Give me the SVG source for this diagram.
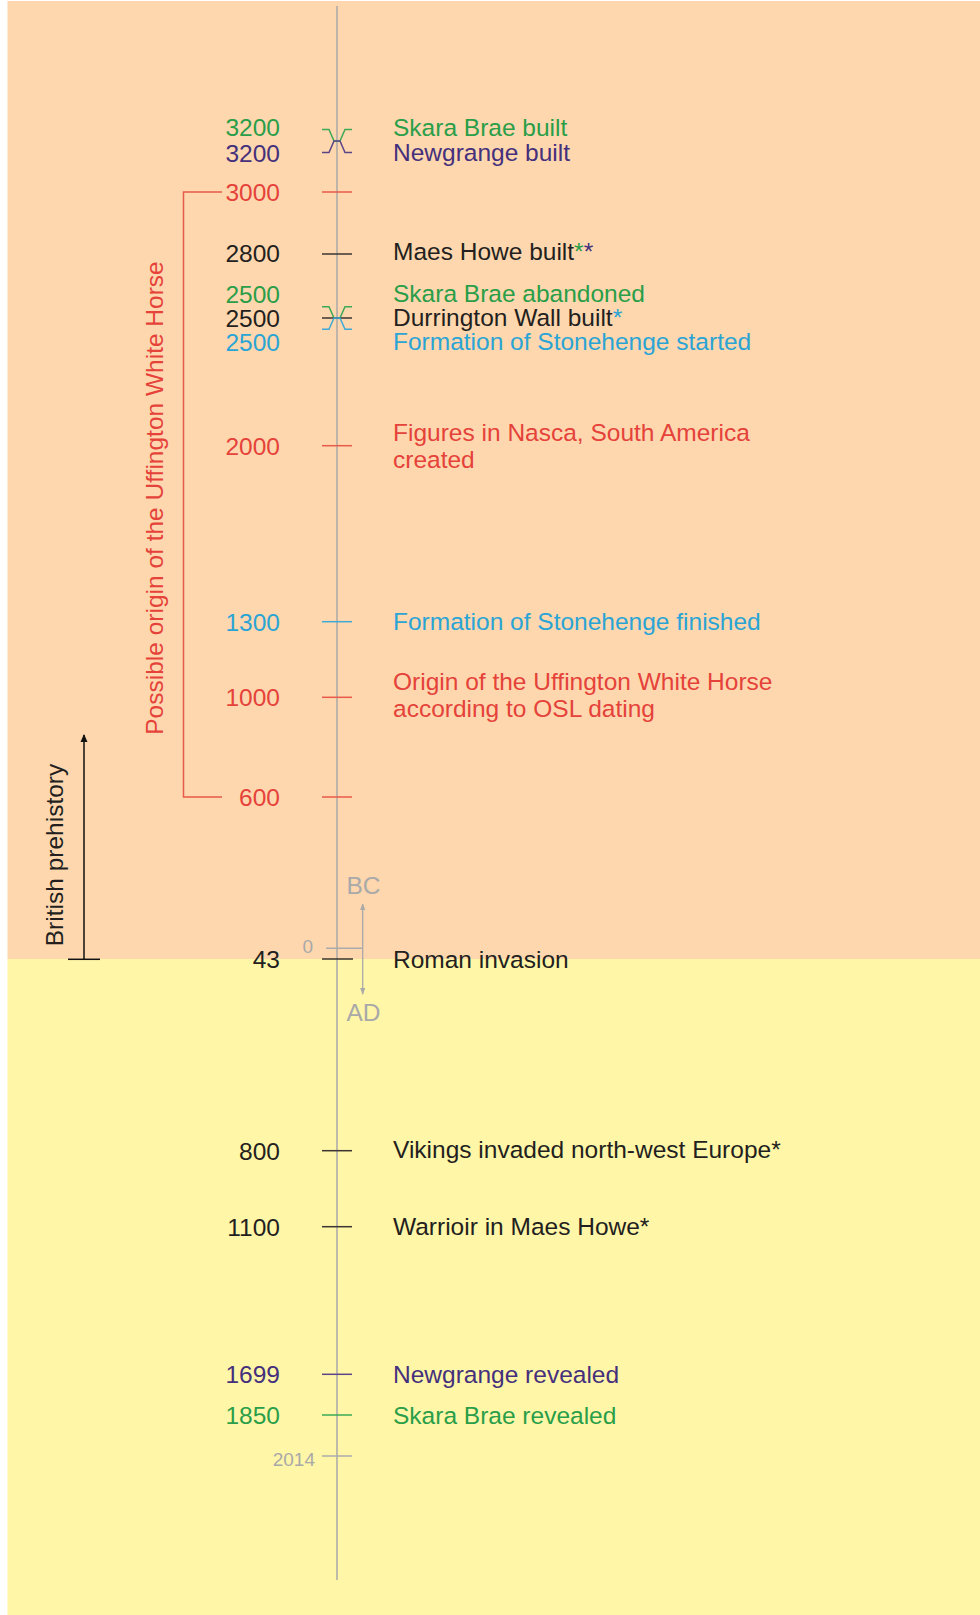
<svg xmlns="http://www.w3.org/2000/svg" width="980" height="1615" viewBox="0 0 980 1615">
<defs>
<style>
text{font-family:"Liberation Sans",Arial,sans-serif;font-size:24.5px}
.yr{text-anchor:end}
.g{fill:#2A9E48}.p{fill:#45307C}.r{fill:#E5423A}.b{fill:#2AA4D5}.k{fill:#231F20}.gr{fill:#A9A9A9}
.t{fill:none;stroke-width:1.5}
.tg{stroke:#3DA856}.tp{stroke:#5A4589}.tr{stroke:#E85A4A}.tb{stroke:#3FAAD5}.tk{stroke:#3a3530}.tgr{stroke:#ABABAB}
.sm{font-size:19px}
</style>
<marker id="ah" viewBox="0 0 8 10" refX="7" refY="5" markerWidth="8" markerHeight="10" markerUnits="userSpaceOnUse" orient="auto-start-reverse">
<path d="M0,1.5 L8,5 L0,8.5 z" fill="#111"/>
</marker>
<marker id="ahg" viewBox="0 0 8 8" refX="7" refY="4" markerWidth="7" markerHeight="7" markerUnits="userSpaceOnUse" orient="auto-start-reverse">
<path d="M0,1 L8,4 L0,7 z" fill="#A9A9A9"/>
</marker>
</defs>

<g id="background">
<rect x="7.5" y="1" width="972.5" height="958" fill="#FED7AE"/>
<rect x="7.5" y="959" width="972.5" height="656" fill="#FFF6A8"/>
</g>

<g id="connectors">
<line x1="337" y1="6" x2="337" y2="1580" stroke="#A9A9A9" stroke-width="1.5"/>
<path class="t tg" d="M322,129.5 H329 L334,141 H340 L345,129.5 H352"/>
<path class="t tp" d="M322,152.5 H329 L334,141 H340 L345,152.5 H352"/>
<line class="t tr" x1="322" y1="192" x2="352" y2="192"/>
<line class="t tk" x1="322" y1="254" x2="352" y2="254"/>
<path class="t tg" d="M322,306.7 H329 L334,318 H340 L345,306.7 H352"/>
<line class="t tk" x1="322" y1="318" x2="352" y2="318"/>
<path class="t tb" d="M322,329.3 H329 L334,318 H340 L345,329.3 H352"/>
<line class="t tr" x1="322" y1="445.7" x2="352" y2="445.7"/>
<line class="t tb" x1="322" y1="621.7" x2="352" y2="621.7"/>
<line class="t tr" x1="322" y1="697.3" x2="352" y2="697.3"/>
<line class="t tr" x1="322" y1="797" x2="352" y2="797"/>
<line class="t tgr" x1="326" y1="948.3" x2="363" y2="948.3"/>
<line class="t tk" x1="322" y1="959" x2="353" y2="959"/>
<line class="t tk" x1="322" y1="1150.7" x2="352" y2="1150.7"/>
<line class="t tk" x1="322" y1="1226.7" x2="352" y2="1226.7"/>
<line class="t tp" x1="322" y1="1374.3" x2="352" y2="1374.3"/>
<line class="t tg" x1="322" y1="1415" x2="352" y2="1415"/>
<line class="t tgr" x1="322" y1="1456" x2="352" y2="1456"/>
<line x1="362.7" y1="904" x2="362.7" y2="994" stroke="#A9A9A9" stroke-width="1.3" marker-start="url(#ahg)" marker-end="url(#ahg)"/>
<path class="t tr" d="M222,192 H183.5 V797 H222"/>
<line x1="68" y1="959.3" x2="100" y2="959.3" stroke="#111" stroke-width="1.5"/>
<line x1="84" y1="959.3" x2="84" y2="735" stroke="#111" stroke-width="1.5" marker-end="url(#ah)"/>
</g>

<g id="n3200a"><text class="yr g" x="280" y="136">3200</text><text class="g" x="393" y="135.5">Skara Brae built</text></g>
<g id="n3200b"><text class="yr p" x="280" y="161.5">3200</text><text class="p" x="393" y="161">Newgrange built</text></g>
<g id="n3000"><text class="yr r" x="280" y="200.5">3000</text></g>
<g id="n2800"><text class="yr k" x="280" y="262">2800</text><text class="k" x="393" y="260">Maes Howe built<tspan class="g">*</tspan><tspan class="p">*</tspan></text></g>
<g id="n2500a"><text class="yr g" x="280" y="302.5">2500</text><text class="g" x="393" y="302">Skara Brae abandoned</text></g>
<g id="n2500b"><text class="yr k" x="280" y="326.5">2500</text><text class="k" x="393" y="326">Durrington Wall built<tspan class="b">*</tspan></text></g>
<g id="n2500c"><text class="yr b" x="280" y="350.5">2500</text><text class="b" x="393" y="350">Formation of Stonehenge started</text></g>
<g id="n2000"><text class="yr r" x="280" y="455">2000</text><text class="r" x="393" y="441">Figures in Nasca, South America</text><text class="r" x="393" y="468">created</text></g>
<g id="n1300"><text class="yr b" x="280" y="630.5">1300</text><text class="b" x="393" y="630">Formation of Stonehenge finished</text></g>
<g id="n1000"><text class="yr r" x="280" y="706">1000</text><text class="r" x="393" y="690">Origin of the Uffington White Horse</text><text class="r" x="393" y="717">according to OSL dating</text></g>
<g id="n600"><text class="yr r" x="280" y="806">600</text></g>
<g id="bcad"><text class="gr" x="346.5" y="894">BC</text><text class="gr sm" x="313" y="952.5" text-anchor="end">0</text><text class="gr" x="346.5" y="1020.5">AD</text></g>
<g id="n43"><text class="yr k" x="280" y="968.3">43</text><text class="k" x="393" y="968">Roman invasion</text></g>
<g id="n800"><text class="yr k" x="280" y="1160">800</text><text class="k" x="393" y="1157.5">Vikings invaded north-west Europe*</text></g>
<g id="n1100"><text class="yr k" x="280" y="1236">1100</text><text class="k" x="393" y="1234.5">Warrioir in Maes Howe*</text></g>
<g id="n1699"><text class="yr p" x="280" y="1383.3">1699</text><text class="p" x="393" y="1382.5">Newgrange revealed</text></g>
<g id="n1850"><text class="yr g" x="280" y="1424.3">1850</text><text class="g" x="393" y="1423.5">Skara Brae revealed</text></g>
<g id="n2014"><text class="yr gr sm" x="315" y="1465.5">2014</text></g>
<g id="uffington"><text class="r" transform="translate(163,498) rotate(-90)" text-anchor="middle">Possible origin of the Uffington White Horse</text></g>
<g id="prehistory"><text class="k" transform="translate(63.3,855) rotate(-90)" text-anchor="middle">British prehistory</text></g>
</svg>
